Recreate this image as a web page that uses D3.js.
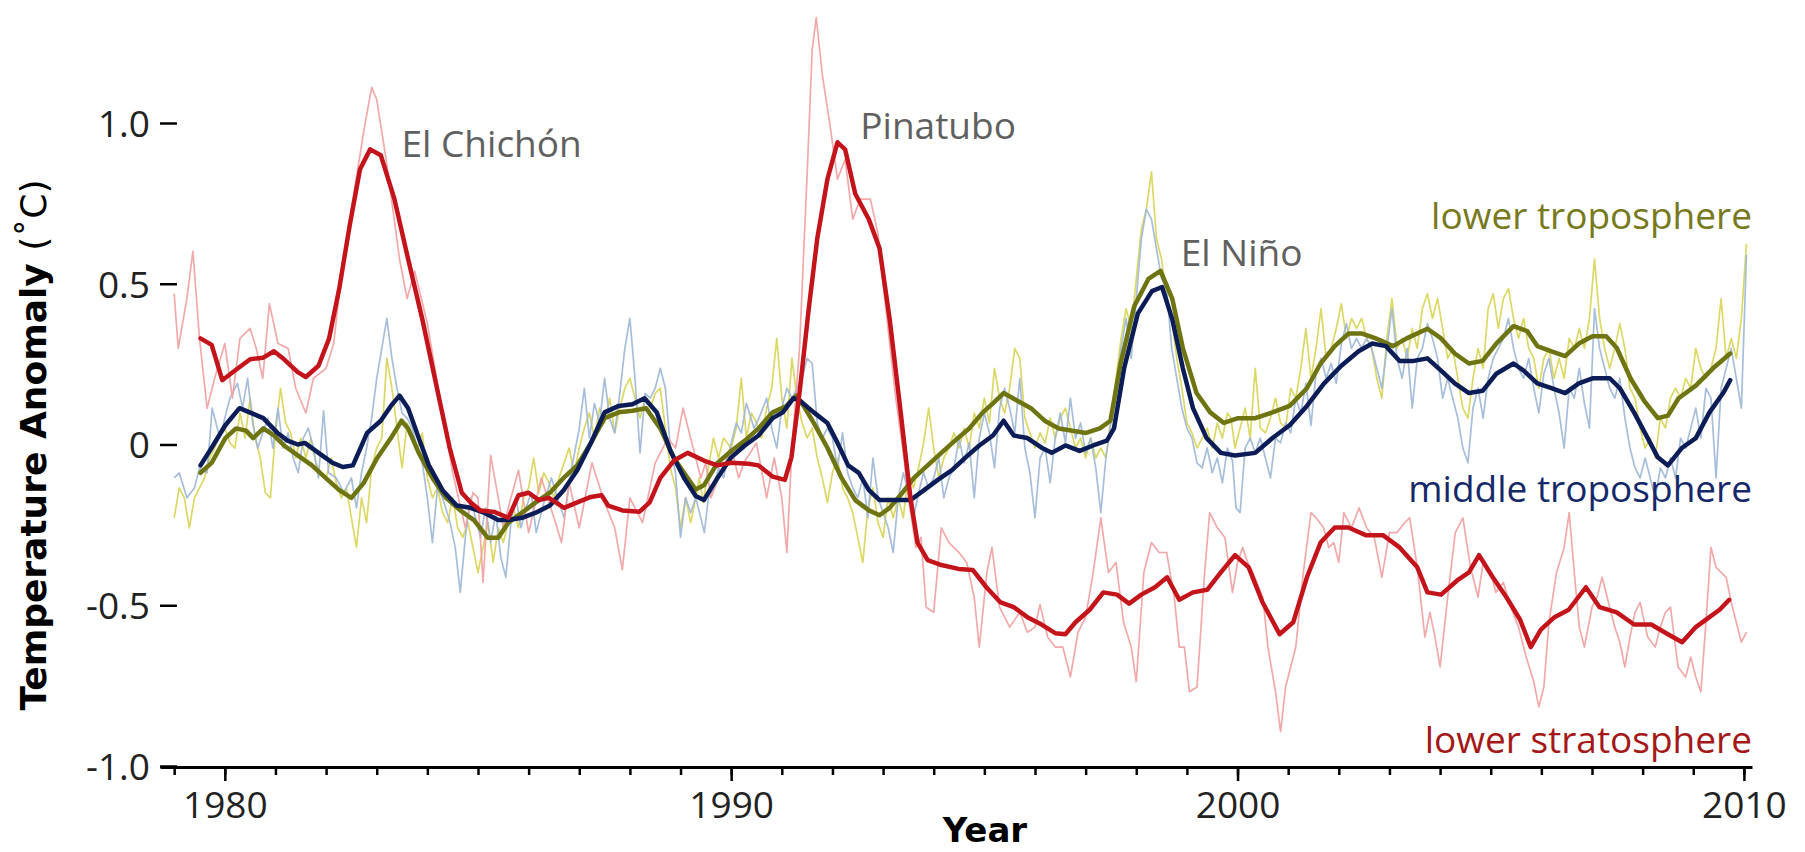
<!DOCTYPE html>
<html>
<head>
<meta charset="utf-8">
<script src="https://cdn.jsdelivr.net/npm/d3@7"></script>
<style>
  body { margin: 0; background: #fff; }
  svg { display: block; }
  .axis text { font-family: "Open Sans", sans-serif; font-size: 37px; fill: #222; }
  .axis line, .axis path { stroke: #000; }
</style>
</head>
<body>
<svg width="1805" height="852"></svg>
<script>
// tick values / labels
var yTicks = [-1, -0.5, 0, 0.5, 1]
var yTickLabels = ["-1.0", "-0.5", "0", "0.5", "1.0"]
var xMinor = d3.range(1979, 2011)
var xMajor = [1980, 1990, 2000, 2010]

// smoothed series [year, anomaly]
var stratSmooth = [[1979.52,0.33],[1979.74,0.31],[1979.95,0.20],[1980.2,0.23],[1980.5,0.265],[1980.76,0.27],[1980.97,0.29],[1981.17,0.265],[1981.44,0.225],[1981.6,0.21],[1981.85,0.245],[1982.06,0.33],[1982.26,0.485],[1982.47,0.685],[1982.67,0.856],[1982.87,0.918],[1983.08,0.90],[1983.35,0.763],[1983.62,0.577],[1983.9,0.39],[1984.17,0.19],[1984.44,-0.01],[1984.68,-0.15],[1984.85,-0.18],[1985.05,-0.205],[1985.33,-0.21],[1985.6,-0.228],[1985.8,-0.158],[1986.0,-0.15],[1986.2,-0.173],[1986.4,-0.166],[1986.7,-0.197],[1986.96,-0.18],[1987.23,-0.163],[1987.44,-0.158],[1987.57,-0.19],[1987.85,-0.205],[1988.19,-0.209],[1988.39,-0.18],[1988.6,-0.104],[1988.87,-0.05],[1989.14,-0.026],[1989.46,-0.05],[1989.73,-0.065],[1990.0,-0.057],[1990.34,-0.06],[1990.54,-0.065],[1990.82,-0.10],[1991.06,-0.11],[1991.19,-0.04],[1991.36,0.175],[1991.53,0.42],[1991.7,0.64],[1991.9,0.825],[1992.1,0.94],[1992.25,0.918],[1992.45,0.78],[1992.72,0.70],[1992.93,0.61],[1993.13,0.39],[1993.34,0.11],[1993.54,-0.166],[1993.68,-0.305],[1993.88,-0.36],[1994.15,-0.375],[1994.49,-0.387],[1994.77,-0.39],[1995.04,-0.444],[1995.31,-0.49],[1995.58,-0.506],[1995.85,-0.537],[1996.13,-0.56],[1996.4,-0.587],[1996.6,-0.59],[1996.8,-0.553],[1997.08,-0.514],[1997.35,-0.46],[1997.62,-0.467],[1997.86,-0.495],[1998.1,-0.467],[1998.37,-0.444],[1998.61,-0.413],[1998.85,-0.483],[1999.12,-0.46],[1999.4,-0.452],[1999.67,-0.398],[1999.95,-0.344],[2000.22,-0.382],[2000.49,-0.49],[2000.83,-0.59],[2001.1,-0.553],[2001.37,-0.413],[2001.64,-0.305],[2001.92,-0.258],[2002.19,-0.258],[2002.53,-0.282],[2002.87,-0.282],[2003.2,-0.32],[2003.55,-0.382],[2003.75,-0.46],[2004.02,-0.467],[2004.36,-0.42],[2004.57,-0.398],[2004.77,-0.344],[2005.04,-0.413],[2005.31,-0.475],[2005.58,-0.545],[2005.79,-0.63],[2005.99,-0.576],[2006.26,-0.537],[2006.54,-0.514],[2006.88,-0.444],[2007.15,-0.506],[2007.49,-0.522],[2007.83,-0.56],[2008.17,-0.56],[2008.5,-0.59],[2008.78,-0.615],[2009.05,-0.568],[2009.32,-0.537],[2009.52,-0.514],[2009.71,-0.483]]

var midSmooth = [[1979.52,-0.065],[1979.74,-0.01],[1980.01,0.06],[1980.29,0.113],[1980.49,0.10],[1980.76,0.082],[1981.04,0.036],[1981.24,0.012],[1981.44,0.0],[1981.58,0.005],[1981.85,-0.026],[1982.13,-0.057],[1982.33,-0.07],[1982.53,-0.065],[1982.81,0.036],[1983.08,0.074],[1983.28,0.12],[1983.45,0.152],[1983.62,0.113],[1983.83,0.02],[1984.03,-0.065],[1984.3,-0.142],[1984.58,-0.19],[1984.85,-0.197],[1985.12,-0.212],[1985.4,-0.235],[1985.6,-0.235],[1985.87,-0.228],[1986.14,-0.212],[1986.42,-0.19],[1986.69,-0.142],[1986.96,-0.08],[1987.23,0.005],[1987.5,0.1],[1987.78,0.12],[1988.05,0.125],[1988.29,0.144],[1988.53,0.1],[1988.8,-0.02],[1989.07,-0.104],[1989.3,-0.16],[1989.46,-0.173],[1989.73,-0.104],[1990.0,-0.04],[1990.27,-0.003],[1990.54,0.028],[1990.82,0.082],[1991.02,0.1],[1991.23,0.144],[1991.36,0.136],[1991.63,0.1],[1991.9,0.067],[1992.1,0.005],[1992.31,-0.065],[1992.52,-0.088],[1992.72,-0.142],[1992.93,-0.173],[1993.13,-0.173],[1993.34,-0.173],[1993.54,-0.173],[1993.81,-0.142],[1994.08,-0.11],[1994.36,-0.08],[1994.63,-0.04],[1994.9,-0.003],[1995.17,0.028],[1995.38,0.074],[1995.58,0.028],[1995.85,0.02],[1996.13,-0.01],[1996.33,-0.026],[1996.6,-0.003],[1996.88,-0.02],[1997.15,-0.003],[1997.42,0.012],[1997.56,0.05],[1997.76,0.237],[1998.03,0.407],[1998.31,0.477],[1998.51,0.49],[1998.71,0.39],[1998.92,0.237],[1999.12,0.113],[1999.39,0.02],[1999.67,-0.026],[1999.95,-0.034],[2000.35,-0.026],[2000.69,0.02],[2001.03,0.06],[2001.37,0.12],[2001.71,0.19],[2002.05,0.245],[2002.39,0.29],[2002.66,0.314],[2002.93,0.306],[2003.2,0.26],[2003.48,0.26],[2003.75,0.268],[2004.02,0.23],[2004.29,0.19],[2004.57,0.16],[2004.84,0.167],[2005.11,0.22],[2005.45,0.252],[2005.65,0.23],[2005.92,0.19],[2006.2,0.175],[2006.47,0.16],[2006.74,0.19],[2007.01,0.206],[2007.35,0.206],[2007.55,0.175],[2007.83,0.1],[2008.1,0.02],[2008.3,-0.04],[2008.5,-0.065],[2008.78,-0.01],[2009.05,0.02],[2009.32,0.1],[2009.59,0.16],[2009.73,0.2]]

var lowSmooth = [[1979.52,-0.088],[1979.74,-0.057],[1980.01,0.02],[1980.22,0.05],[1980.42,0.043],[1980.56,0.02],[1980.76,0.05],[1980.97,0.028],[1981.17,-0.003],[1981.44,-0.034],[1981.72,-0.065],[1981.99,-0.104],[1982.26,-0.142],[1982.5,-0.166],[1982.74,-0.12],[1983.01,-0.042],[1983.28,0.02],[1983.49,0.074],[1983.62,0.05],[1983.83,-0.026],[1984.1,-0.104],[1984.37,-0.166],[1984.65,-0.205],[1984.92,-0.235],[1985.19,-0.29],[1985.4,-0.29],[1985.6,-0.243],[1985.87,-0.212],[1986.14,-0.18],[1986.42,-0.15],[1986.69,-0.104],[1986.96,-0.065],[1987.23,0.005],[1987.5,0.082],[1987.78,0.1],[1988.05,0.105],[1988.32,0.113],[1988.6,0.05],[1988.87,-0.042],[1989.14,-0.104],[1989.3,-0.14],[1989.46,-0.127],[1989.73,-0.057],[1990.0,-0.02],[1990.27,0.012],[1990.54,0.05],[1990.82,0.1],[1991.09,0.12],[1991.29,0.152],[1991.43,0.12],[1991.63,0.067],[1991.9,-0.01],[1992.18,-0.104],[1992.45,-0.173],[1992.72,-0.205],[1992.93,-0.22],[1993.13,-0.197],[1993.34,-0.158],[1993.61,-0.104],[1993.88,-0.065],[1994.15,-0.026],[1994.42,0.012],[1994.7,0.05],[1994.97,0.1],[1995.17,0.128],[1995.38,0.16],[1995.65,0.136],[1995.92,0.113],[1996.19,0.074],[1996.47,0.05],[1996.74,0.043],[1997.01,0.036],[1997.28,0.05],[1997.49,0.074],[1997.69,0.252],[1997.96,0.43],[1998.24,0.515],[1998.48,0.54],[1998.71,0.454],[1998.92,0.3],[1999.19,0.16],[1999.46,0.1],[1999.73,0.067],[2000.01,0.082],[2000.35,0.082],[2000.69,0.1],[2001.03,0.12],[2001.37,0.175],[2001.64,0.252],[2001.92,0.306],[2002.19,0.345],[2002.46,0.345],[2002.73,0.33],[2003.07,0.306],[2003.34,0.33],[2003.75,0.36],[2004.02,0.33],[2004.29,0.283],[2004.57,0.252],[2004.84,0.26],[2005.11,0.314],[2005.45,0.368],[2005.72,0.353],[2005.92,0.306],[2006.2,0.29],[2006.47,0.275],[2006.74,0.314],[2007.01,0.337],[2007.28,0.337],[2007.49,0.3],[2007.76,0.206],[2008.03,0.136],[2008.3,0.082],[2008.5,0.09],[2008.71,0.144],[2009.05,0.183],[2009.39,0.237],[2009.73,0.283]]

// raw (noisy) series [year, anomaly]
var stratRaw = [[1979.0,0.469],[1979.08,0.299],[1979.25,0.454],[1979.37,0.601],[1979.5,0.33],[1979.65,0.113],[1979.8,0.206],[1980.0,0.314],[1980.15,0.144],[1980.3,0.33],[1980.5,0.361],[1980.62,0.299],[1980.75,0.206],[1980.88,0.438],[1981.05,0.314],[1981.25,0.299],[1981.4,0.175],[1981.6,0.098],[1981.75,0.206],[1982.0,0.237],[1982.15,0.314],[1982.25,0.454],[1982.5,0.732],[1982.75,0.98],[1982.9,1.111],[1983.0,1.073],[1983.2,0.872],[1983.45,0.577],[1983.6,0.454],[1983.75,0.539],[1984.0,0.376],[1984.25,0.144],[1984.5,-0.088],[1984.75,-0.259],[1984.9,-0.15],[1985.0,-0.166],[1985.1,-0.429],[1985.25,-0.034],[1985.4,-0.166],[1985.5,-0.259],[1985.65,-0.166],[1985.8,-0.08],[1986.0,-0.274],[1986.25,-0.104],[1986.5,-0.228],[1986.65,-0.305],[1986.8,-0.119],[1987.0,-0.259],[1987.25,-0.057],[1987.5,-0.181],[1987.7,-0.259],[1987.85,-0.39],[1988.0,-0.166],[1988.25,-0.243],[1988.5,-0.057],[1988.75,0.02],[1988.9,-0.011],[1989.05,0.113],[1989.25,-0.011],[1989.4,-0.104],[1989.5,-0.057],[1989.6,-0.166],[1989.75,-0.104],[1990.0,-0.011],[1990.15,-0.104],[1990.25,-0.057],[1990.5,0.005],[1990.7,-0.166],[1990.85,-0.042],[1991.0,-0.166],[1991.1,-0.336],[1991.2,-0.011],[1991.35,0.299],[1991.5,0.841],[1991.6,1.228],[1991.68,1.328],[1991.8,1.15],[1991.95,0.995],[1992.1,0.825],[1992.25,0.887],[1992.4,0.701],[1992.55,0.763],[1992.75,0.763],[1992.9,0.655],[1993.0,0.5],[1993.25,0.144],[1993.4,-0.026],[1993.5,-0.166],[1993.65,-0.32],[1993.75,-0.289],[1993.85,-0.506],[1994.0,-0.522],[1994.15,-0.259],[1994.3,-0.305],[1994.5,-0.336],[1994.65,-0.367],[1994.8,-0.475],[1994.9,-0.63],[1995.05,-0.398],[1995.15,-0.32],[1995.3,-0.506],[1995.5,-0.568],[1995.7,-0.522],[1995.85,-0.584],[1996.0,-0.568],[1996.1,-0.498],[1996.25,-0.599],[1996.4,-0.63],[1996.55,-0.63],[1996.7,-0.723],[1996.85,-0.584],[1997.0,-0.537],[1997.15,-0.398],[1997.3,-0.228],[1997.45,-0.398],[1997.6,-0.367],[1997.75,-0.553],[1997.9,-0.63],[1998.0,-0.738],[1998.15,-0.398],[1998.3,-0.305],[1998.45,-0.336],[1998.6,-0.336],[1998.75,-0.475],[1998.85,-0.63],[1998.95,-0.63],[1999.05,-0.769],[1999.2,-0.754],[1999.35,-0.398],[1999.45,-0.212],[1999.6,-0.259],[1999.75,-0.289],[1999.9,-0.46],[2000.0,-0.367],[2000.1,-0.32],[2000.2,-0.367],[2000.3,-0.398],[2000.5,-0.475],[2000.6,-0.63],[2000.75,-0.769],[2000.85,-0.893],[2000.95,-0.754],[2001.05,-0.692],[2001.15,-0.63],[2001.3,-0.398],[2001.45,-0.212],[2001.55,-0.228],[2001.7,-0.259],[2001.8,-0.32],[2001.9,-0.305],[2002.0,-0.367],[2002.1,-0.212],[2002.25,-0.259],[2002.4,-0.197],[2002.55,-0.259],[2002.7,-0.289],[2002.85,-0.413],[2003.0,-0.274],[2003.15,-0.274],[2003.3,-0.243],[2003.4,-0.228],[2003.55,-0.382],[2003.7,-0.599],[2003.8,-0.522],[2003.9,-0.599],[2004.0,-0.692],[2004.15,-0.475],[2004.3,-0.274],[2004.45,-0.228],[2004.6,-0.382],[2004.75,-0.475],[2004.85,-0.367],[2005.0,-0.398],[2005.1,-0.46],[2005.25,-0.429],[2005.4,-0.506],[2005.55,-0.568],[2005.7,-0.661],[2005.85,-0.738],[2005.95,-0.816],[2006.05,-0.754],[2006.15,-0.553],[2006.3,-0.398],[2006.45,-0.32],[2006.55,-0.212],[2006.65,-0.398],[2006.75,-0.568],[2006.85,-0.63],[2007.0,-0.506],[2007.1,-0.475],[2007.2,-0.413],[2007.3,-0.475],[2007.45,-0.568],[2007.55,-0.615],[2007.65,-0.692],[2007.75,-0.599],[2007.85,-0.522],[2007.95,-0.491],[2008.1,-0.599],[2008.25,-0.63],[2008.35,-0.568],[2008.45,-0.522],[2008.55,-0.506],[2008.7,-0.692],[2008.85,-0.723],[2008.95,-0.661],[2009.05,-0.723],[2009.15,-0.769],[2009.25,-0.553],[2009.35,-0.32],[2009.45,-0.382],[2009.55,-0.398],[2009.65,-0.413],[2009.75,-0.491],[2009.85,-0.553],[2009.95,-0.615],[2010.05,-0.584]]

var midRaw = [[1979.0,-0.104],[1979.1,-0.088],[1979.25,-0.166],[1979.4,-0.135],[1979.5,-0.073],[1979.65,-0.088],[1979.75,0.113],[1979.9,0.02],[1980.0,0.082],[1980.1,0.144],[1980.25,0.19],[1980.35,0.113],[1980.45,0.206],[1980.55,0.067],[1980.65,-0.011],[1980.75,0.036],[1980.85,0.082],[1980.95,-0.011],[1981.05,0.113],[1981.15,-0.011],[1981.25,0.036],[1981.35,-0.042],[1981.45,-0.088],[1981.55,0.02],[1981.65,0.051],[1981.75,-0.011],[1981.85,-0.104],[1981.95,0.105],[1982.05,-0.088],[1982.2,-0.104],[1982.35,-0.15],[1982.5,-0.104],[1982.6,-0.197],[1982.7,-0.088],[1982.8,-0.011],[1982.9,0.082],[1983.0,0.206],[1983.1,0.299],[1983.2,0.392],[1983.3,0.268],[1983.4,0.175],[1983.5,0.098],[1983.6,0.082],[1983.7,0.051],[1983.8,-0.011],[1983.9,-0.057],[1984.0,-0.166],[1984.1,-0.305],[1984.2,-0.135],[1984.3,-0.166],[1984.45,-0.243],[1984.55,-0.32],[1984.65,-0.46],[1984.75,-0.289],[1984.85,-0.166],[1984.95,-0.228],[1985.05,-0.289],[1985.15,-0.197],[1985.25,-0.305],[1985.35,-0.212],[1985.45,-0.351],[1985.55,-0.413],[1985.65,-0.243],[1985.75,-0.166],[1985.85,-0.259],[1985.95,-0.197],[1986.05,-0.15],[1986.15,-0.274],[1986.3,-0.181],[1986.45,-0.104],[1986.6,-0.181],[1986.7,-0.228],[1986.85,-0.073],[1987.0,0.051],[1987.1,0.175],[1987.2,0.02],[1987.3,0.128],[1987.4,0.067],[1987.5,0.206],[1987.6,0.082],[1987.7,0.036],[1987.8,0.159],[1987.9,0.299],[1988.0,0.392],[1988.1,0.206],[1988.2,-0.026],[1988.3,0.159],[1988.4,0.144],[1988.5,0.175],[1988.6,0.237],[1988.7,0.175],[1988.8,-0.011],[1988.9,-0.088],[1989.0,-0.289],[1989.1,-0.166],[1989.2,-0.212],[1989.3,-0.166],[1989.4,-0.228],[1989.47,-0.274],[1989.55,-0.166],[1989.65,-0.135],[1989.75,-0.073],[1989.85,-0.104],[1990.0,0.005],[1990.1,0.067],[1990.2,0.036],[1990.3,0.128],[1990.45,0.051],[1990.55,0.082],[1990.7,0.144],[1990.8,0.051],[1990.9,-0.011],[1991.0,0.113],[1991.1,0.175],[1991.2,0.144],[1991.3,0.175],[1991.4,0.206],[1991.5,0.268],[1991.6,0.252],[1991.7,0.067],[1991.8,0.02],[1991.9,0.051],[1992.0,0.02],[1992.1,-0.073],[1992.2,0.036],[1992.3,-0.088],[1992.4,-0.135],[1992.5,-0.166],[1992.6,-0.104],[1992.7,-0.228],[1992.8,-0.042],[1992.9,-0.166],[1993.0,-0.212],[1993.1,-0.259],[1993.2,-0.336],[1993.3,-0.166],[1993.4,-0.088],[1993.5,-0.15],[1993.6,-0.228],[1993.7,-0.15],[1993.8,-0.088],[1993.9,-0.135],[1994.0,-0.104],[1994.1,-0.042],[1994.2,-0.166],[1994.3,-0.104],[1994.4,-0.073],[1994.5,0.02],[1994.6,-0.057],[1994.7,0.005],[1994.8,-0.166],[1994.9,0.02],[1995.0,0.098],[1995.1,0.036],[1995.2,-0.073],[1995.3,0.113],[1995.4,0.175],[1995.5,0.113],[1995.6,0.036],[1995.7,0.206],[1995.8,-0.011],[1995.9,-0.088],[1996.0,-0.228],[1996.1,-0.042],[1996.2,-0.011],[1996.3,-0.119],[1996.4,0.02],[1996.5,0.098],[1996.6,0.005],[1996.7,0.144],[1996.8,0.02],[1996.9,0.067],[1997.0,-0.026],[1997.1,0.02],[1997.2,-0.073],[1997.3,-0.212],[1997.4,-0.042],[1997.5,0.067],[1997.6,0.175],[1997.7,0.299],[1997.8,0.392],[1997.9,0.268],[1998.0,0.454],[1998.1,0.639],[1998.2,0.732],[1998.3,0.701],[1998.4,0.608],[1998.5,0.515],[1998.6,0.485],[1998.7,0.299],[1998.8,0.206],[1998.9,0.113],[1999.0,0.051],[1999.1,0.02],[1999.2,-0.057],[1999.3,-0.073],[1999.4,-0.011],[1999.5,-0.088],[1999.6,-0.042],[1999.7,-0.119],[1999.8,-0.011],[1999.9,-0.05],[1999.97,-0.197],[2000.05,-0.212],[2000.15,-0.011],[2000.25,0.02],[2000.35,-0.026],[2000.45,0.02],[2000.55,-0.042],[2000.65,-0.104],[2000.75,0.02],[2000.85,0.005],[2000.95,0.067],[2001.05,0.036],[2001.15,0.144],[2001.25,0.098],[2001.35,0.19],[2001.45,0.059],[2001.55,0.221],[2001.65,0.268],[2001.75,0.206],[2001.85,0.252],[2001.95,0.19],[2002.05,0.314],[2002.15,0.376],[2002.25,0.299],[2002.35,0.33],[2002.45,0.299],[2002.55,0.33],[2002.65,0.299],[2002.75,0.237],[2002.85,0.175],[2002.95,0.299],[2003.05,0.423],[2003.15,0.268],[2003.25,0.206],[2003.35,0.299],[2003.45,0.113],[2003.55,0.268],[2003.65,0.299],[2003.75,0.376],[2003.85,0.33],[2003.95,0.268],[2004.05,0.144],[2004.15,0.206],[2004.25,0.144],[2004.35,0.082],[2004.45,-0.011],[2004.55,-0.057],[2004.65,0.113],[2004.75,0.175],[2004.85,0.082],[2004.95,0.206],[2005.05,0.268],[2005.15,0.299],[2005.25,0.33],[2005.35,0.392],[2005.45,0.299],[2005.55,0.237],[2005.65,0.206],[2005.75,0.268],[2005.85,0.175],[2005.95,0.098],[2006.05,0.221],[2006.15,0.268],[2006.25,0.175],[2006.35,0.098],[2006.45,-0.011],[2006.55,0.175],[2006.65,0.144],[2006.75,0.237],[2006.85,0.128],[2006.95,0.051],[2007.05,0.423],[2007.15,0.299],[2007.25,0.237],[2007.35,0.175],[2007.45,0.144],[2007.55,0.206],[2007.65,0.082],[2007.75,-0.011],[2007.85,-0.073],[2007.95,-0.104],[2008.05,-0.042],[2008.15,-0.104],[2008.25,-0.166],[2008.35,-0.073],[2008.45,-0.104],[2008.55,-0.042],[2008.65,-0.104],[2008.75,0.02],[2008.85,-0.011],[2008.95,0.051],[2009.05,0.113],[2009.15,0.02],[2009.25,0.175],[2009.35,0.144],[2009.45,-0.104],[2009.55,0.175],[2009.65,0.237],[2009.75,0.299],[2009.85,0.206],[2009.95,0.113],[2010.05,0.59]]

var lowRaw = [[1979.0,-0.228],[1979.1,-0.135],[1979.2,-0.166],[1979.3,-0.259],[1979.4,-0.166],[1979.5,-0.135],[1979.6,-0.104],[1979.7,-0.042],[1979.8,-0.011],[1979.9,0.036],[1980.0,0.051],[1980.1,0.005],[1980.2,-0.011],[1980.3,0.098],[1980.4,0.02],[1980.5,0.144],[1980.6,0.02],[1980.7,-0.042],[1980.8,-0.15],[1980.9,-0.166],[1981.0,0.036],[1981.1,0.175],[1981.2,0.067],[1981.3,0.036],[1981.4,-0.042],[1981.5,0.02],[1981.6,-0.042],[1981.7,0.02],[1981.8,-0.057],[1981.9,-0.088],[1982.0,-0.104],[1982.1,-0.042],[1982.2,-0.119],[1982.3,-0.166],[1982.4,-0.135],[1982.5,-0.228],[1982.6,-0.32],[1982.7,-0.166],[1982.8,-0.243],[1982.9,-0.073],[1983.0,-0.011],[1983.1,0.02],[1983.2,0.268],[1983.3,0.175],[1983.4,0.051],[1983.5,-0.073],[1983.6,0.067],[1983.7,0.02],[1983.8,-0.011],[1983.9,0.036],[1984.0,-0.104],[1984.1,-0.166],[1984.2,-0.135],[1984.3,-0.212],[1984.4,-0.243],[1984.5,-0.166],[1984.6,-0.259],[1984.7,-0.289],[1984.8,-0.243],[1984.9,-0.32],[1985.0,-0.398],[1985.1,-0.32],[1985.2,-0.243],[1985.3,-0.367],[1985.4,-0.259],[1985.5,-0.305],[1985.6,-0.243],[1985.7,-0.197],[1985.8,-0.259],[1985.9,-0.166],[1986.0,-0.135],[1986.1,-0.042],[1986.2,-0.15],[1986.3,-0.088],[1986.4,-0.119],[1986.5,-0.166],[1986.6,-0.104],[1986.7,-0.057],[1986.8,-0.011],[1986.9,-0.088],[1987.0,-0.011],[1987.1,0.051],[1987.2,0.098],[1987.3,0.02],[1987.4,0.113],[1987.5,0.067],[1987.6,0.144],[1987.7,0.036],[1987.8,0.113],[1987.9,0.175],[1988.0,0.206],[1988.1,0.144],[1988.2,0.082],[1988.3,0.144],[1988.4,0.113],[1988.5,0.159],[1988.6,0.175],[1988.7,0.051],[1988.8,-0.073],[1988.9,-0.135],[1989.0,-0.259],[1989.1,-0.166],[1989.2,-0.243],[1989.3,-0.166],[1989.37,-0.104],[1989.45,-0.181],[1989.55,-0.073],[1989.65,0.02],[1989.75,-0.042],[1989.85,0.02],[1990.0,-0.011],[1990.1,0.051],[1990.2,0.206],[1990.3,0.02],[1990.4,0.098],[1990.5,0.067],[1990.6,0.02],[1990.7,0.113],[1990.8,0.175],[1990.9,0.33],[1991.0,0.144],[1991.1,0.051],[1991.2,0.268],[1991.3,0.144],[1991.4,0.067],[1991.5,0.02],[1991.6,0.051],[1991.7,-0.042],[1991.8,-0.104],[1991.9,-0.181],[1992.0,-0.088],[1992.1,-0.042],[1992.2,-0.135],[1992.3,-0.166],[1992.4,-0.212],[1992.5,-0.289],[1992.6,-0.367],[1992.7,-0.197],[1992.8,-0.135],[1992.9,-0.243],[1993.0,-0.289],[1993.1,-0.166],[1993.2,-0.228],[1993.3,-0.166],[1993.4,-0.228],[1993.5,-0.088],[1993.6,-0.135],[1993.7,-0.073],[1993.8,0.005],[1993.9,0.113],[1994.0,-0.011],[1994.1,-0.104],[1994.2,-0.042],[1994.3,-0.011],[1994.4,0.036],[1994.5,-0.011],[1994.6,0.051],[1994.7,-0.011],[1994.8,0.098],[1994.9,0.051],[1995.0,0.144],[1995.1,0.067],[1995.2,0.237],[1995.3,0.144],[1995.4,0.098],[1995.5,0.175],[1995.6,0.299],[1995.7,0.268],[1995.8,0.082],[1995.9,0.036],[1996.0,-0.011],[1996.1,0.036],[1996.2,0.005],[1996.3,0.082],[1996.4,0.02],[1996.5,0.082],[1996.6,0.113],[1996.7,0.051],[1996.8,-0.011],[1996.9,0.02],[1997.0,-0.042],[1997.1,0.02],[1997.2,-0.042],[1997.3,-0.011],[1997.4,-0.042],[1997.5,0.082],[1997.6,0.206],[1997.7,0.33],[1997.8,0.423],[1997.9,0.361],[1998.0,0.515],[1998.1,0.67],[1998.2,0.732],[1998.3,0.848],[1998.4,0.639],[1998.5,0.577],[1998.6,0.454],[1998.7,0.392],[1998.8,0.268],[1998.9,0.175],[1999.0,0.067],[1999.1,0.036],[1999.2,-0.011],[1999.3,0.02],[1999.4,0.051],[1999.5,-0.011],[1999.6,0.067],[1999.7,0.02],[1999.8,0.098],[1999.87,0.082],[1999.95,-0.011],[2000.05,0.051],[2000.15,0.113],[2000.25,0.02],[2000.35,0.237],[2000.45,0.051],[2000.55,0.036],[2000.65,0.082],[2000.75,0.144],[2000.85,0.067],[2000.95,0.051],[2001.05,0.175],[2001.15,0.144],[2001.25,0.237],[2001.35,0.361],[2001.45,0.206],[2001.55,0.299],[2001.65,0.423],[2001.75,0.268],[2001.85,0.299],[2001.95,0.361],[2002.05,0.438],[2002.15,0.33],[2002.25,0.392],[2002.35,0.361],[2002.45,0.392],[2002.55,0.33],[2002.65,0.299],[2002.75,0.206],[2002.85,0.144],[2002.95,0.33],[2003.05,0.454],[2003.15,0.299],[2003.25,0.33],[2003.35,0.268],[2003.45,0.361],[2003.55,0.299],[2003.65,0.423],[2003.75,0.469],[2003.85,0.392],[2003.95,0.454],[2004.05,0.361],[2004.15,0.268],[2004.25,0.299],[2004.35,0.206],[2004.45,0.113],[2004.55,0.082],[2004.65,0.206],[2004.75,0.299],[2004.85,0.237],[2004.95,0.423],[2005.05,0.469],[2005.15,0.361],[2005.25,0.454],[2005.35,0.485],[2005.45,0.392],[2005.55,0.33],[2005.65,0.392],[2005.75,0.299],[2005.85,0.268],[2005.95,0.175],[2006.05,0.268],[2006.15,0.299],[2006.25,0.206],[2006.35,0.268],[2006.45,0.206],[2006.55,0.33],[2006.65,0.299],[2006.75,0.361],[2006.85,0.299],[2006.95,0.392],[2007.05,0.577],[2007.15,0.392],[2007.25,0.299],[2007.35,0.237],[2007.45,0.299],[2007.55,0.376],[2007.65,0.299],[2007.75,0.175],[2007.85,0.144],[2007.95,0.051],[2008.05,-0.011],[2008.15,0.02],[2008.25,-0.042],[2008.35,0.082],[2008.45,0.051],[2008.55,0.144],[2008.65,0.175],[2008.75,0.144],[2008.85,0.206],[2008.95,0.175],[2009.05,0.299],[2009.15,0.237],[2009.25,0.206],[2009.35,0.237],[2009.45,0.299],[2009.55,0.454],[2009.65,0.268],[2009.75,0.33],[2009.85,0.268],[2009.95,0.392],[2010.05,0.624]]

var svg = d3.select("svg")

var x = d3.scaleLinear().domain([1978.72, 2010.16]).range([160, 1752])
var y = d3.scaleLinear().domain([-1, 1]).range([766, 123])

var lineGen = d3.line().x(d => x(d[0])).y(d => y(d[1]))

// thin monthly-ish lines
var thin = [
  {data: lowRaw, color: "#d8d455"},
  {data: midRaw, color: "#9db7d6"},
  {data: stratRaw, color: "#efa0a0"}
]
svg.append("g").selectAll("path").data(thin).enter().append("path")
  .attr("d", d => lineGen(d.data))
  .attr("fill", "none")
  .attr("stroke", d => d.color)
  .attr("stroke-width", 1.7)
  .attr("stroke-opacity", 0.9)
  .attr("stroke-linejoin", "round")

// smoothed lines
var bold = [
  {data: lowSmooth, color: "#6d7410"},
  {data: midSmooth, color: "#0c1c56"},
  {data: stratSmooth, color: "#c4141b"}
]
svg.append("g").selectAll("path").data(bold).enter().append("path")
  .attr("d", d => lineGen(d.data))
  .attr("fill", "none")
  .attr("stroke", d => d.color)
  .attr("stroke-width", 4.5)
  .attr("stroke-linejoin", "round")
  .attr("stroke-linecap", "round")

// x axis: minor yearly ticks then decade ticks with labels
var xAxisG = svg.append("g").attr("class", "axis").attr("transform", "translate(0,767)")
xAxisG.call(d3.axisBottom(x).tickValues(xMinor).tickSize(8).tickSizeOuter(0).tickFormat(""))
xAxisG.select(".domain").attr("stroke-width", 3)
xAxisG.selectAll(".tick line").attr("stroke-width", 2.5)

var xMajorG = svg.append("g").attr("class", "axis").attr("transform", "translate(0,767)")
xMajorG.call(d3.axisBottom(x).tickValues(xMajor).tickSize(14).tickPadding(11).tickFormat(d3.format("d")))
xMajorG.select(".domain").remove()
xMajorG.selectAll(".tick line").attr("stroke-width", 2.5)

// y axis: short dashes inside plot, labels to the left
var yAxisG = svg.append("g").attr("class", "axis").attr("transform", "translate(177,0)")
yAxisG.call(d3.axisLeft(y).tickValues(yTicks).tickSize(17).tickPadding(10)
  .tickFormat((d, i) => yTickLabels[i]))
yAxisG.select(".domain").remove()
yAxisG.selectAll(".tick line").attr("stroke-width", 2.5)
yAxisG.selectAll(".tick text").attr("dy", "0.36em")

// axis titles
svg.append("text")
  .attr("x", 985).attr("y", 842)
  .attr("text-anchor", "middle")
  .style("font-family", "'DejaVu Sans', sans-serif").style("font-weight", "bold").style("font-size", "34px")
  .text("Year")

var yTitle = svg.append("text")
  .attr("transform", "translate(46,445) rotate(-90)")
  .attr("text-anchor", "middle")
  .style("font-family", "'DejaVu Sans', sans-serif").style("font-size", "36px").style("fill", "#000")
yTitle.append("tspan").style("font-weight", "bold").text("Temperature Anomaly ")
yTitle.append("tspan").text("(˚C)")

// event annotations
var notes = [
  {text: "El Chichón", year: 1983.49, val: 0.894},
  {text: "Pinatubo", year: 1992.55, val: 0.95},
  {text: "El Niño", year: 1998.88, val: 0.555}
]
svg.append("g").selectAll("text").data(notes).enter().append("text")
  .attr("x", d => x(d.year)).attr("y", d => y(d.val))
  .style("font-family", "'Open Sans', sans-serif").style("font-size", "37px").style("fill", "#606060")
  .text(d => d.text)

// series labels
var seriesLabels = [
  {text: "lower troposphere", val: 0.67, color: "#77791c"},
  {text: "middle troposphere", val: -0.179, color: "#15296a"},
  {text: "lower stratosphere", val: -0.96, color: "#a51818"}
]
svg.append("g").selectAll("text").data(seriesLabels).enter().append("text")
  .attr("x", x(2010.16)).attr("y", d => y(d.val))
  .attr("text-anchor", "end")
  .style("font-family", "'Open Sans', sans-serif").style("font-size", "37px")
  .style("fill", d => d.color)
  .text(d => d.text)
</script>
</body>
</html>
